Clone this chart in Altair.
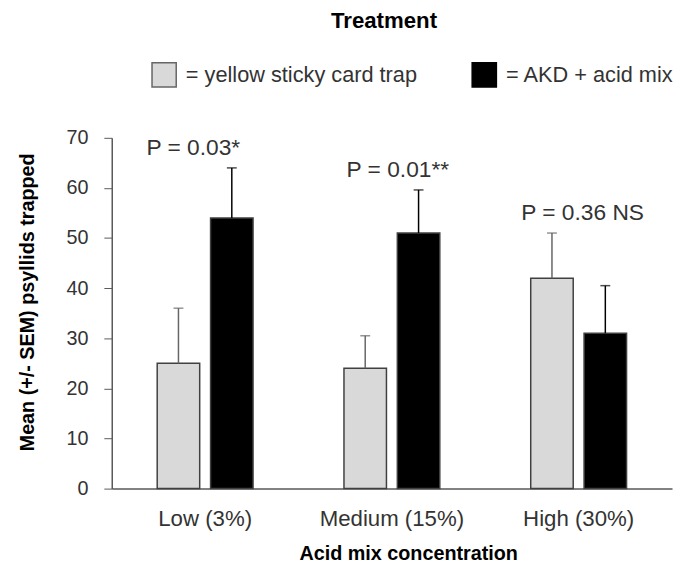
import altair as alt
import pandas as pd

groups = ["Low (3%)", "Medium (15%)", "High (30%)"]
treatments = ["yellow sticky card trap", "AKD + acid mix"]
yellow_mean = [25, 24, 42]
yellow_sem = [11, 6.5, 9]
akd_mean = [54, 51, 31]
akd_sem = [10, 8.6, 9.5]
p_labels = ["P = 0.03*", "P = 0.01**", "P = 0.36 NS"]

# horizontal nudges of the P labels (style only)
label_dx = [-12, 6, 4]

rows = []
for i, g in enumerate(groups):
    rows.append(dict(group=g, treatment=treatments[0], mean=yellow_mean[i], sem=yellow_sem[i]))
    rows.append(dict(group=g, treatment=treatments[1], mean=akd_mean[i], sem=akd_sem[i]))
df = pd.DataFrame(rows)
df["top"] = df["mean"] + df["sem"]
lab = df.groupby("group", sort=False)["top"].max().reset_index()
lab["label"] = p_labels

FONT = "Liberation Sans"
YTITLE = "Mean (+/- SEM) psyllids trapped"

x_axis = alt.Axis(
    title="Acid mix concentration", labelFontSize=22.5, labelAngle=0, ticks=False,
    domainColor="#595959", domainWidth=1.5, labelPadding=19, labelColor="#333333",
    titleFontSize=20, titleFontWeight="bold", titleColor="#000000",
    titleX=300, titleY=66, titleBaseline="middle", titleAnchor="start", titleAlign="center",
)
y_axis = alt.Axis(
    title=YTITLE, values=list(range(0, 71, 10)), tickSize=8, tickColor="#595959",
    domainColor="#595959", domainWidth=1.5, labelFontSize=20, labelColor="#333333",
    labelPadding=16, grid=False, titleFontSize=20, titleFontWeight="bold", titleColor="#000000",
    titleX=-85, titleY=166, titleAlign="center", titleBaseline="middle", titleAngle=-90,
)

x = alt.X("group:N", sort=groups, scale=alt.Scale(paddingInner=0, paddingOuter=0), axis=x_axis)
xo = alt.XOffset("treatment:N", sort=treatments,
                 scale=alt.Scale(domain=treatments, paddingInner=0.2037, paddingOuter=0.852))
yscale = alt.Scale(domain=[0, 70])

bars = alt.Chart(df).mark_bar(stroke="#404040", strokeWidth=1.5).encode(
    x=x, xOffset=xo,
    y=alt.Y("mean:Q", scale=yscale, axis=y_axis),
    fill=alt.Fill("treatment:N", sort=treatments,
                  scale=alt.Scale(domain=treatments, range=["#d9d9d9", "#000000"]),
                  legend=alt.Legend(
                      title=None, orient="none", legendX=40, legendY=-77,
                      direction="horizontal", columns=2, symbolType="square",
                      symbolSize=600, symbolStrokeColor="#404040", symbolStrokeWidth=1.5,
                      labelFontSize=22, labelFont=FONT, labelColor="#333333",
                      labelOffset=9, columnPadding=51, labelLimit=400, padding=0,
                      labelExpr="'= ' + datum.label")),
)

ecolor = alt.Color("treatment:N", sort=treatments,
                   scale=alt.Scale(domain=treatments, range=["#666666", "#000000"]), legend=None)

rules = alt.Chart(df).mark_rule(strokeWidth=1.5).encode(
    x=x, xOffset=xo,
    y=alt.Y("mean:Q", scale=yscale, axis=y_axis), y2="top:Q", color=ecolor,
)
caps = alt.Chart(df).mark_tick(size=10, thickness=1.5).encode(
    x=x, xOffset=xo,
    y=alt.Y("top:Q", scale=yscale, axis=y_axis), color=ecolor,
)

text_layers = []
for lbl, ddx in zip(p_labels, label_dx):
    text_layers.append(
        alt.Chart(lab).transform_filter(alt.datum.label == lbl).mark_text(
            fontSize=23, dy=-20, dx=ddx, baseline="middle", font=FONT, color="#333333"
        ).encode(
            x=x,
            y=alt.Y("top:Q", scale=yscale, axis=y_axis),
            text="label:N",
        )
    )

chart = alt.layer(bars, rules, caps, *text_layers).properties(
    width=567, height=355,
    autosize=alt.AutoSizeParams(type="none"),
    padding={"left": 105, "top": 128, "right": 2, "bottom": 80},
    title=alt.TitleParams(text="Treatment", fontSize=22.5, fontWeight="bold", font=FONT,
                          anchor="middle", frame="group", dx=-8, offset=30, color="#000000"),
).configure(font=FONT).configure_view(stroke=None)

chart.save("out.html", embed_options={"renderer": "svg", "actions": False})
